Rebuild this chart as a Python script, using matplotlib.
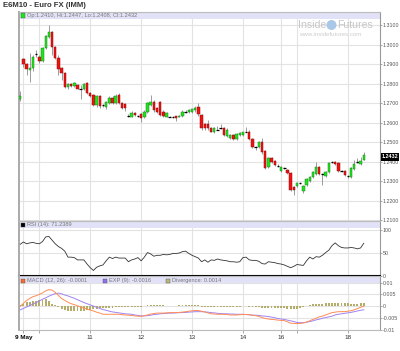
import matplotlib
matplotlib.use("Agg")
import matplotlib.pyplot as plt
from matplotlib.patches import Rectangle, Ellipse

plt.rcParams['font.family'] = ['Liberation Sans', 'DejaVu Sans']

# 90-minute bars, E6M10 Euro FX, 7-18 May 2010
opens = [1.2723, 1.2926, 1.2901, 1.2870, 1.2881, 1.2950, 1.2937, 1.2916, 1.2983, 1.3039,
         1.3064, 1.2990, 1.2932, 1.2881, 1.2855, 1.2784, 1.2799, 1.2789, 1.2794, 1.2774,
         1.2774, 1.2804, 1.2753, 1.2743, 1.2692, 1.2738, 1.2690, 1.2680, 1.2702, 1.2728,
         1.2702, 1.2743, 1.2702, 1.2697, 1.2636, 1.2631, 1.2651, 1.2636, 1.2646, 1.2626,
         1.2656, 1.2692, 1.2707, 1.2677, 1.2707, 1.2656, 1.2631, 1.2631, 1.2631, 1.2631,
         1.2631, 1.2636, 1.2656, 1.2656, 1.2656, 1.2662, 1.2682, 1.2641, 1.2590, 1.2595,
         1.2570, 1.2554, 1.2564, 1.2570, 1.2570, 1.2529, 1.2523, 1.2534, 1.2518, 1.2534,
         1.2534, 1.2554, 1.2554, 1.2518, 1.2473, 1.2473, 1.2498, 1.2452, 1.2371, 1.2417,
         1.2401, 1.2376, 1.2350, 1.2366, 1.2355, 1.2340, 1.2269, 1.2274, 1.2289, 1.2248,
         1.2279, 1.2299, 1.2320, 1.2335, 1.2371, 1.2335, 1.2325, 1.2345, 1.2396, 1.2396,
         1.2391, 1.2350, 1.2350, 1.2325, 1.2320, 1.2360, 1.2396, 1.2386, 1.2410]
highs = [1.2763, 1.2932, 1.2906, 1.2957, 1.2947, 1.2972, 1.2945, 1.2990, 1.3050, 1.3100,
         1.3070, 1.2995, 1.2947, 1.2886, 1.2860, 1.2805, 1.2805, 1.2810, 1.2800, 1.2794,
         1.2805, 1.2810, 1.2758, 1.2748, 1.2743, 1.2743, 1.2697, 1.2712, 1.2735, 1.2738,
         1.2745, 1.2750, 1.2707, 1.2702, 1.2645, 1.2660, 1.2656, 1.2641, 1.2651, 1.2662,
         1.2707, 1.2740, 1.2715, 1.2682, 1.2712, 1.2662, 1.2656, 1.2636, 1.2636, 1.2636,
         1.2641, 1.2662, 1.2662, 1.2667, 1.2672, 1.2685, 1.2700, 1.2646, 1.2600, 1.2615,
         1.2575, 1.2575, 1.2580, 1.2590, 1.2575, 1.2570, 1.2539, 1.2539, 1.2544, 1.2549,
         1.2554, 1.2575, 1.2560, 1.2523, 1.2480, 1.2503, 1.2520, 1.2458, 1.2422, 1.2422,
         1.2406, 1.2386, 1.2376, 1.2371, 1.2360, 1.2345, 1.2274, 1.2294, 1.2294, 1.2279,
         1.2315, 1.2325, 1.2350, 1.2400, 1.2376, 1.2340, 1.2350, 1.2396, 1.2401, 1.2401,
         1.2396, 1.2355, 1.2355, 1.2330, 1.2371, 1.2410, 1.2420, 1.2425, 1.2447]
lows = [1.2712, 1.2886, 1.2845, 1.2809, 1.2865, 1.2937, 1.2905, 1.2910, 1.2975, 1.3034,
        1.2945, 1.2925, 1.2845, 1.2819, 1.2779, 1.2770, 1.2784, 1.2784, 1.2770, 1.2723,
        1.2768, 1.2748, 1.2733, 1.2687, 1.2680, 1.2677, 1.2682, 1.2672, 1.2697, 1.2695,
        1.2697, 1.2697, 1.2672, 1.2660, 1.2630, 1.2626, 1.2636, 1.2626, 1.2605, 1.2621,
        1.2651, 1.2687, 1.2656, 1.2651, 1.2636, 1.2631, 1.2626, 1.2626, 1.2621, 1.2610,
        1.2626, 1.2631, 1.2651, 1.2651, 1.2651, 1.2656, 1.2636, 1.2564, 1.2564, 1.2560,
        1.2549, 1.2544, 1.2560, 1.2565, 1.2529, 1.2524, 1.2518, 1.2513, 1.2513, 1.2529,
        1.2529, 1.2549, 1.2513, 1.2468, 1.2460, 1.2468, 1.2440, 1.2360, 1.2366, 1.2391,
        1.2376, 1.2371, 1.2345, 1.2360, 1.2335, 1.2248, 1.2228, 1.2269, 1.2284, 1.2240,
        1.2274, 1.2294, 1.2315, 1.2330, 1.2330, 1.2280, 1.2320, 1.2340, 1.2391, 1.2381,
        1.2345, 1.2345, 1.2325, 1.2315, 1.2315, 1.2355, 1.2391, 1.2381, 1.2408]
closes = [1.2738, 1.2901, 1.2876, 1.2881, 1.2937, 1.2950, 1.2916, 1.2983, 1.3044, 1.3064,
          1.2988, 1.2932, 1.2876, 1.2855, 1.2784, 1.2799, 1.2789, 1.2804, 1.2774, 1.2774,
          1.2799, 1.2753, 1.2738, 1.2692, 1.2738, 1.2687, 1.2690, 1.2707, 1.2728, 1.2702,
          1.2738, 1.2702, 1.2677, 1.2677, 1.2636, 1.2651, 1.2641, 1.2636, 1.2621, 1.2656,
          1.2702, 1.2707, 1.2662, 1.2656, 1.2641, 1.2636, 1.2651, 1.2631, 1.2631, 1.2621,
          1.2636, 1.2656, 1.2656, 1.2662, 1.2667, 1.2677, 1.2646, 1.2570, 1.2570, 1.2570,
          1.2554, 1.2570, 1.2564, 1.2570, 1.2534, 1.2564, 1.2534, 1.2518, 1.2539, 1.2544,
          1.2549, 1.2554, 1.2518, 1.2473, 1.2473, 1.2498, 1.2447, 1.2366, 1.2417, 1.2396,
          1.2381, 1.2376, 1.2371, 1.2366, 1.2340, 1.2253, 1.2253, 1.2289, 1.2289, 1.2274,
          1.2309, 1.2320, 1.2345, 1.2371, 1.2335, 1.2335, 1.2345, 1.2391, 1.2396, 1.2386,
          1.2350, 1.2350, 1.2330, 1.2325, 1.2366, 1.2386, 1.2396, 1.2401, 1.2432]

rsi = [69, 74, 70, 72, 73, 71, 70, 75, 85, 86, 78, 70, 64, 60, 54, 41, 41, 40, 35, 35,
       35, 26, 18, 12, 19, 22, 24, 33, 41, 38, 41, 39, 39, 39, 31, 35, 37, 40, 33, 41,
       51, 48, 43, 45, 45, 47, 46, 47, 49, 49, 50, 53, 54, 49, 45, 42, 39, 31, 35, 30,
       35, 34, 37, 35, 34, 33, 31, 31, 30, 31, 40, 41, 35, 34, 34, 32, 27, 26, 31, 30,
       29, 27, 26, 24, 21, 18, 21, 25, 24, 23, 33, 41, 37, 42, 41, 45, 51, 56, 66, 72,
       66, 62, 61, 61, 62, 61, 59, 61, 71.24]

macd = [-0.0001, 0.0012, 0.0024, 0.0033, 0.0040, 0.0044, 0.0050, 0.0056, 0.0065, 0.0070,
        0.0068, 0.0058, 0.0045, 0.0032, 0.0024, 0.0016, 0.0010, 0.0006, 0.0001, -0.0004,
        -0.0009, -0.0013, -0.0017, -0.0021, -0.0026, -0.0030, -0.0035, -0.0035, -0.0035, -0.0035,
        -0.0035, -0.0035, -0.0037, -0.0038, -0.0039, -0.0040, -0.0042, -0.0043, -0.0044, -0.0041,
        -0.0038, -0.0034, -0.0032, -0.0030, -0.0030, -0.0030, -0.0029, -0.0028, -0.0028, -0.0028,
        -0.0027, -0.0026, -0.0024, -0.0022, -0.0020, -0.0019, -0.0019, -0.0022, -0.0025, -0.0029,
        -0.0033, -0.0034, -0.0035, -0.0035, -0.0035, -0.0036, -0.0038, -0.0038, -0.0038, -0.0037,
        -0.0036, -0.0036, -0.0037, -0.0039, -0.0041, -0.0044, -0.0049, -0.0053, -0.0055, -0.0057,
        -0.0058, -0.0060, -0.0061, -0.0062, -0.0067, -0.0073, -0.0074, -0.0075, -0.0074, -0.0072,
        -0.0068, -0.0063, -0.0057, -0.0052, -0.0046, -0.0043, -0.0038, -0.0033, -0.0028, -0.0026,
        -0.0024, -0.0024, -0.0024, -0.0022, -0.0020, -0.0016, -0.0011, -0.0005, -0.0001]
signal = [-0.0016, -0.0010, -0.0004, 0.0002, 0.0009, 0.0015, 0.0022, 0.0029, 0.0035, 0.0042,
          0.0048, 0.0053, 0.0055, 0.0052, 0.0047, 0.0043, 0.0038, 0.0033, 0.0027, 0.0021,
          0.0015, 0.0010, 0.0005, 0.0000, -0.0005, -0.0010, -0.0015, -0.0018, -0.0022, -0.0025,
          -0.0027, -0.0029, -0.0031, -0.0033, -0.0034, -0.0035, -0.0038, -0.0040, -0.0042, -0.0042,
          -0.0041, -0.0039, -0.0036, -0.0035, -0.0033, -0.0032, -0.0031, -0.0030, -0.0030, -0.0029,
          -0.0028, -0.0028, -0.0027, -0.0026, -0.0025, -0.0024, -0.0024, -0.0024, -0.0025, -0.0026,
          -0.0028, -0.0029, -0.0031, -0.0032, -0.0033, -0.0033, -0.0034, -0.0034, -0.0035, -0.0035,
          -0.0035, -0.0036, -0.0037, -0.0039, -0.0039, -0.0040, -0.0042, -0.0043, -0.0045, -0.0047,
          -0.0050, -0.0053, -0.0055, -0.0057, -0.0060, -0.0063, -0.0066, -0.0070, -0.0071, -0.0071,
          -0.0069, -0.0066, -0.0063, -0.0059, -0.0056, -0.0052, -0.0049, -0.0046, -0.0043, -0.0038,
          -0.0035, -0.0033, -0.0031, -0.0029, -0.0027, -0.0024, -0.0021, -0.0018, -0.0016]
divergence = [0.0003, 0.0009, 0.0016, 0.0019, 0.0021, 0.0023, 0.0024, 0.0025, 0.0028, 0.0022,
              0.0010, 0.0003, -0.0005, -0.0012, -0.0016, -0.0020, -0.0021, -0.0021, -0.0020, -0.0020,
              -0.0019, -0.0018, -0.0015, -0.0013, -0.0012, -0.0010, -0.0009, -0.0009, -0.0008, -0.0007,
              -0.0006, -0.0006, -0.0006, -0.0005, -0.0005, -0.0005, -0.0004, -0.0003, -0.0002, -0.0001,
              0.0003, 0.0005, 0.0004, 0.0004, 0.0003, 0.0003, 0.0002, 0.0002, 0.0002, 0.0002,
              0.0003, 0.0003, 0.0004, 0.0004, 0.0005, 0.0004, 0.0004, -0.0002, -0.0003, -0.0003,
              -0.0004, -0.0004, -0.0004, -0.0003, -0.0003, -0.0003, -0.0003, -0.0003, -0.0003, -0.0002,
              -0.0001, -0.0001, -0.0002, -0.0005, -0.0006, -0.0006, -0.0008, -0.0009, -0.0009, -0.0010,
              -0.0009, -0.0009, -0.0009, -0.0010, -0.0012, -0.0012, -0.0012, -0.0012, -0.0009, -0.0004,
              0.0002, 0.0006, 0.0007, 0.0008, 0.0008, 0.0010, 0.0011, 0.0012, 0.0012, 0.0013,
              0.0013, 0.0012, 0.0012, 0.0011, 0.0009, 0.0009, 0.0009, 0.0011, 0.0014]

day_starts = [1, 6, 22, 38, 54, 70, 82, 87, 103]
day_labels = ['9 May', '', '11', '12', '13', '14', '16', '', '18']
price_ticks = [1.21, 1.22, 1.23, 1.24, 1.25, 1.26, 1.27, 1.28, 1.29, 1.30, 1.31]
rsi_ticks = [0, 50, 100]
macd_ticks = [-0.01, -0.005, 0, 0.005, 0.01]
macd_tick_labels = ['-0.01', '-0.005', '0', '0.005', '0.01']

W, H = 400, 351
fig = plt.figure(figsize=(W / 100, H / 100), dpi=100)
fig.patch.set_facecolor('white')


def frac(x0, y0, x1, y1):
    # pixel box (top-left origin) -> figure fraction rect
    return [x0 / W, 1 - y1 / H, (x1 - x0) / W, (y1 - y0) / H]


ax1 = fig.add_axes(frac(19, 12, 380, 221))
ax2 = fig.add_axes(frac(19, 221, 380, 276))
ax3 = fig.add_axes(frac(19, 276, 380, 330))

idx = list(range(len(closes)))


def style(ax, ticks, labels, ylim, band_px=7):
    ax.set_xlim(-0.4, 113.1)
    ax.set_ylim(*ylim)
    ax.yaxis.tick_right()
    ax.set_yticks(ticks)
    ax.set_yticklabels(labels, fontsize=3.8, color='#555555')
    ax.tick_params(axis='y', length=1.5, width=0.6, color='#999999', pad=0.6)
    ax.set_xticks(day_starts)
    ax.set_xticklabels([])
    ax.tick_params(axis='x', length=0)
    ax.grid(True, color='#e3e3e3', lw=0.8)
    ax.set_axisbelow(True)
    for s in ax.spines.values():
        s.set_color('#bbbbbb')
        s.set_linewidth(0.8)
    ax.spines['left'].set_color('#aaaaaa')
    ax.spines['left'].set_linewidth(1.4)
    ax.spines['right'].set_color('#999999')
    hpx = ax.get_position().height * H
    ax.add_patch(Rectangle((0, 1 - band_px / hpx), 1, band_px / hpx, transform=ax.transAxes,
                           facecolor='#e1e1f7', edgecolor='none', zorder=0.6))


# price panel
style(ax1, price_ticks, ['%.4f' % t for t in price_ticks], (1.2095, 1.3167))
ax1.vlines(idx, lows, highs, color='#8c8c8c', lw=0.6, zorder=2)
for i in idx:
    o, c = opens[i], closes[i]
    if o == c:
        ax1.hlines(c, i - 0.4, i + 0.4, color='black', lw=0.9, zorder=3)
    elif c > o:
        ax1.bar(i, c - o, bottom=o, width=0.75, facecolor='#18e818', edgecolor='#2a7a2a',
                lw=0.35, zorder=3)
    else:
        ax1.bar(i, o - c, bottom=c, width=0.75, facecolor='#f21010', edgecolor='#8a1010',
                lw=0.35, zorder=3)

# RSI panel
style(ax2, rsi_ticks, ['0', '50', '100'], (0, 119.6))
ax2.plot(idx, rsi, color='#333333', lw=0.6, zorder=3)
ax2.spines['bottom'].set_color('black')
ax2.spines['bottom'].set_linewidth(1.5)

# MACD panel
style(ax3, macd_ticks, macd_tick_labels, (-0.0102, 0.0128))
ax3.bar(idx, divergence, width=0.6, color='#b4ad6a', zorder=2)
ax3.plot(idx, signal, color='#a083f2', lw=0.7, zorder=3)
ax3.plot(idx, macd, color='#ff8c55', lw=0.7, zorder=3)
ax3.set_xticklabels(day_labels, fontsize=4.6, color='#333333')
ax3.tick_params(axis='x', length=2, width=0.6, color='#999999', pad=1.5)
ax3.get_xticklabels()[0].set_fontweight('bold')
ax3.get_xticklabels()[0].set_color('black')


def px_text(x, y, s, **kw):
    fig.text(x / W, 1 - y / H, s, va='center', **kw)


def px_box(x0, y0, x1, y1, color):
    fig.add_artist(Rectangle((x0 / W, 1 - y1 / H), (x1 - x0) / W, (y1 - y0) / H,
                             transform=fig.transFigure, facecolor=color,
                             edgecolor='#555555', lw=0.3, zorder=5))


# title and legend bands
px_text(3, 5.5, 'E6M10 - Euro FX (IMM)', fontsize=5.6, fontweight='bold', color='#333333')

px_box(21, 13.5, 25, 17.5, '#18e818')
px_text(27, 15.5, 'Op:%.4f, Hi:%.4f, Lo:%.4f, Cl:%.4f' % (opens[-1], highs[-1], lows[-1], closes[-1]),
        fontsize=4.1, color='#777777')

px_box(21, 222.5, 25, 226.5, 'black')
px_text(27, 224.5, 'RSI (14): 71.2389', fontsize=4.1, color='#777777')

px_box(21, 278.5, 25, 282.5, '#ff6a2a')
px_text(27, 280.5, 'MACD (12, 26): -0.0001', fontsize=4.1, color='#777777')
px_box(103, 278.5, 107, 282.5, '#9070f0')
px_text(109, 280.5, 'EXP (9): -0.0016', fontsize=4.1, color='#777777')
px_box(166, 278.5, 170, 282.5, '#bdb67a')
px_text(172, 280.5, 'Divergence: 0.0014', fontsize=4.1, color='#777777')

# last price marker
fig.add_artist(Rectangle((381 / W, 1 - 161 / H), 18 / W, 8 / H, transform=fig.transFigure,
                         facecolor='black', edgecolor='none', zorder=5))
px_text(381.5, 157, '%.4f' % closes[-1], fontsize=3.9, color='white', fontweight='bold', zorder=6)

# watermark
px_text(298, 25.5, 'Inside', fontsize=7.6, color='#c6c6c6')
fig.add_artist(Ellipse((331.5 / W, 1 - 25 / H), 10 / W, 10 / H, transform=fig.transFigure,
                       facecolor='#a9c8e8', edgecolor='none', zorder=4))
px_text(337, 25.5, 'Futures', fontsize=7.6, color='#c6c6c6')
px_text(299, 34, 'www.insidefutures.com', fontsize=4.4, color='#cccccc')

fig.savefig('out.png', dpi=100)
